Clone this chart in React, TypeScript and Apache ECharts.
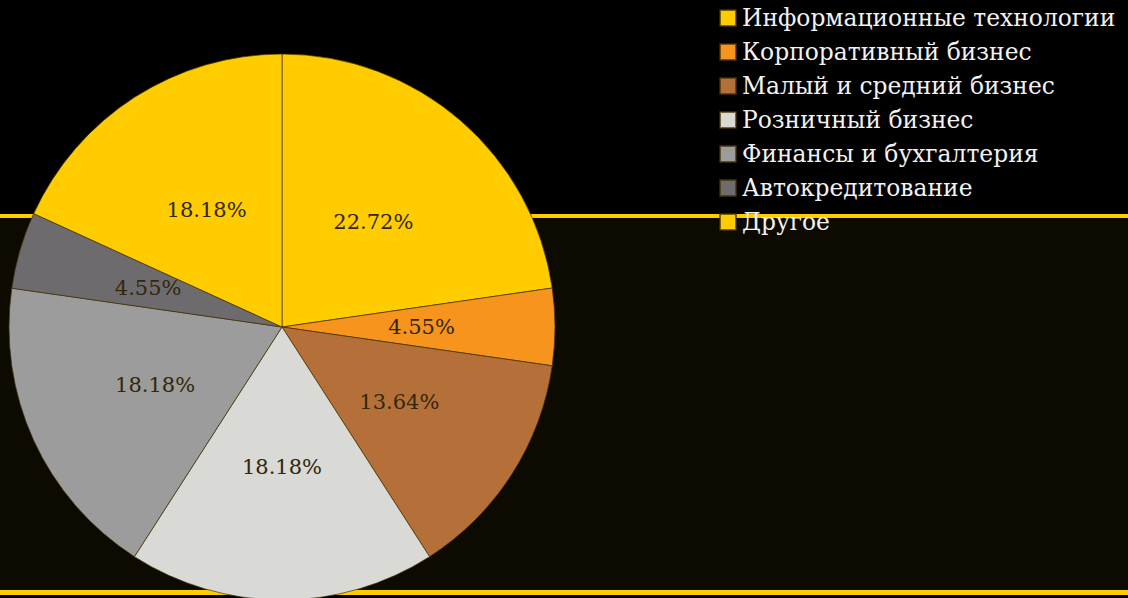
import React, { useEffect, useRef } from "react";
import * as echarts from "echarts";

const categories = [
  "Информационные технологии",
  "Корпоративный бизнес",
  "Малый и средний бизнес",
  "Розничный бизнес",
  "Финансы и бухгалтерия",
  "Автокредитование",
  "Другое",
];
const values = [22.72, 4.55, 13.64, 18.18, 18.18, 4.55, 18.18];
const colors = ["#FFCC00", "#F7941E", "#B5703A", "#D9D9D5", "#9C9C9C", "#6E6B6F", "#FFCC00"];

const SERIF = "DejaVu Serif";

export default function App() {
  const ref = useRef<HTMLDivElement>(null);
  useEffect(() => {
    document.body.style.margin = "0";
    const chart = echarts.init(ref.current!, null, { renderer: "svg" });
    chart.setOption({
      animation: false,
      backgroundColor: "#000000",
      graphic: [
        { type: "rect", z: -10, shape: { x: 0, y: 216, width: 1128, height: 376 }, style: { fill: "#0D0A02" } },
        { type: "rect", z: -9, shape: { x: 0, y: 214, width: 1128, height: 4 }, style: { fill: "#FFCC00" } },
        { type: "rect", z: -9, shape: { x: 0, y: 590, width: 1128, height: 5 }, style: { fill: "#FFCC00" } },
      ],
      legend: {
        orient: "vertical",
        left: 719,
        top: 1,
        padding: 0,
        itemGap: 0,
        itemWidth: 16,
        itemHeight: 16,
        icon: "rect",
        textStyle: {
          color: "#F2F2F2",
          fontFamily: SERIF,
          fontSize: 23.4,
          lineHeight: 34,
          padding: [0, 0, 0, 1],
        },
        data: categories,
      },
      series: [
        {
          type: "pie",
          center: [282, 327],
          radius: 273,
          startAngle: 90,
          clockwise: true,
          itemStyle: { borderColor: "rgba(70,50,0,0.7)", borderWidth: 1 },
          label: {
            show: true,
            position: "inner",
            formatter: (p: any) => p.value.toFixed(2) + "%",
            color: "#33270A",
            fontFamily: SERIF,
            fontSize: 21,
          },
          labelLine: { show: false },
          emphasis: { disabled: true },
          data: categories.map((name, i) => ({ name, value: values[i], itemStyle: { color: colors[i] } })),
        },
      ],
    });
    return () => chart.dispose();
  }, []);
  return <div ref={ref} style={{ width: 1128, height: 598 }} />;
}
